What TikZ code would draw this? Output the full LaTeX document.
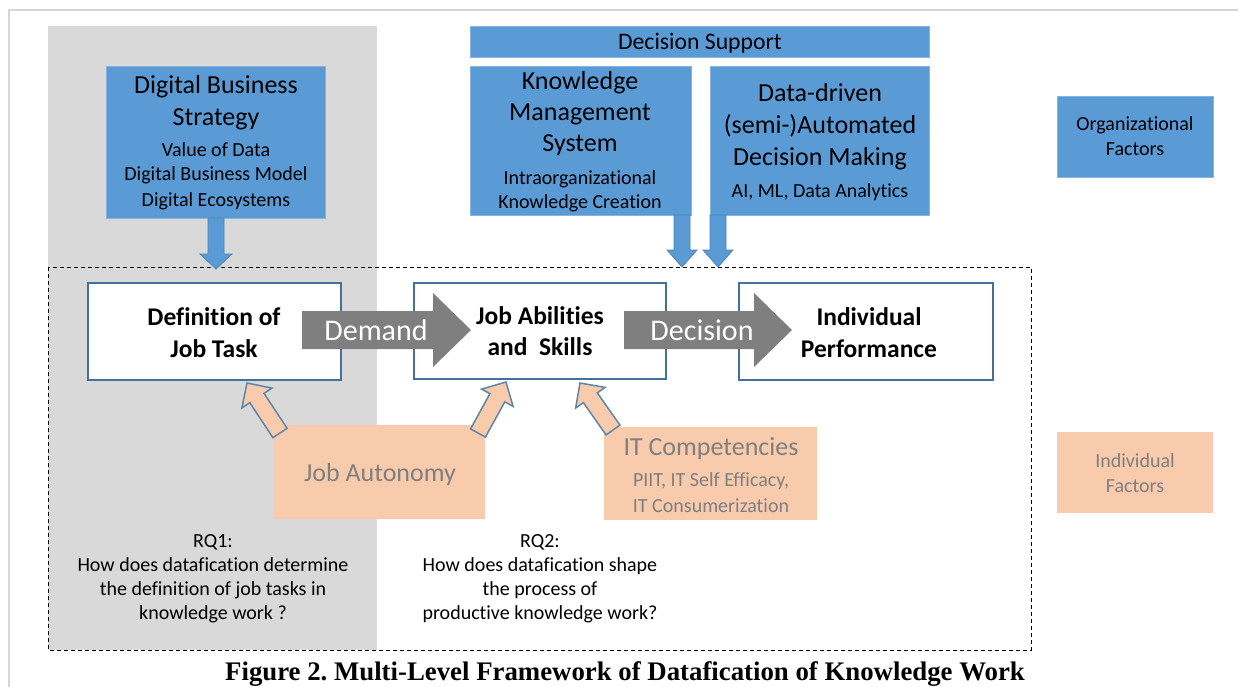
\documentclass[tikz,border=0pt]{standalone}
\usepackage{fontspec}
\setmainfont{Carlito}[Ligatures={NoCommon}]
\newfontfamily\captionfont{Liberation Serif}
\usetikzlibrary{calc,fit}
\frenchspacing

\definecolor{officeblue}{HTML}{5B9BD5}
\definecolor{blueedge}{HTML}{41719C}
\definecolor{peach}{HTML}{F8CBAD}
\definecolor{panelgray}{HTML}{D9D9D9}
\definecolor{arrowgray}{HTML}{7F7F7F}
\definecolor{softtext}{HTML}{7F7F7F}
\definecolor{framegray}{HTML}{D6D6D6}

% block arrow: #1 style, #2 tail, #3 tip, #4 half shaft width, #5 half head width, #6 head length
\newcommand\blockarrow[6]{%
  \coordinate (bahead) at ($(#3)!#6!(#2)$);
  \path[#1] ($(#2)!#4!90:(#3)$) -- ($(bahead)!#4!-90:(#2)$) -- ($(bahead)!#5!-90:(#2)$)
    -- (#3) -- ($(bahead)!#5!90:(#2)$) -- ($(bahead)!#4!90:(#2)$) -- ($(#2)!#4!-90:(#3)$) -- cycle;
}

\begin{document}
\begin{tikzpicture}[x=1pt,y=-1pt,
  txt/.style={anchor=base,inner sep=0pt,outer sep=0pt},
  big/.style={txt,font=\fontsize{26}{31}\selectfont},
  small/.style={txt,font=\fontsize{20}{24}\selectfont},
  boldtxt/.style={txt,font=\bfseries\fontsize{25.5}{30}\selectfont},
  flowtxt/.style={txt,text=white,font=\fontsize{30}{36}\selectfont},
  softbig/.style={big,text=softtext},
  softsmall/.style={small,text=softtext},
  bluebox/.style={fill=officeblue,draw=officeblue!75!white,line width=0.8pt,inner sep=0pt},
  peachbox/.style={fill=peach,inner sep=0pt},
  whitebox/.style={fill=white,draw=blueedge,line width=1.2pt,inner sep=0pt},
  bluearrow/.style={fill=officeblue,draw=blueedge!55!officeblue,line width=0.8pt},
  grayarrow/.style={fill=arrowgray},
  peacharrow/.style={fill=peach,draw=blueedge!85!white,line width=1.5pt,line join=miter},
]
\useasboundingbox (0,0) rectangle (1238,687);

% page frame
\draw[framegray,line width=2pt] (1238,10) -- (9,10) -- (9,687);

% shaded panel behind the first research question
\node[fill=panelgray,inner sep=0pt,fit={(48,26) (377,650)}] (panel) {};

% dashed frame of the individual level
\draw[dashed,dash pattern=on 4pt off 3pt,line width=1pt] (48,267) rectangle (1031,650);

% organizational factors
\node[bluebox,fit={(106,66) (325,218)}] (dbs) {};
\node[bluebox,fit={(470,26) (929,57)}] (ds) {};
\node[bluebox,fit={(470,66) (691,215)}] (kms) {};
\node[bluebox,fit={(710,66) (929,215)}] (ddm) {};
\node[bluebox,fit={(1057,96) (1213,177)}] (orgf) {};

% job level boxes
\node[whitebox,fit={(88,283) (341,380)}] (def) {};
\node[whitebox,fit={(414,283) (666,379)}] (abil) {};
\node[whitebox,fit={(739,283) (993,380)}] (perf) {};

% individual factors
\node[peachbox,fit={(274,425) (485,519)}] (auto) {};
\node[peachbox,fit={(604,427) (817,520)}] (itc) {};
\node[peachbox,fit={(1057,432) (1213,513)}] (indf) {};

% arrow end points
\coordinate (dbs-out) at (216,218);
\coordinate (def-in) at (216,269);
\coordinate (kms-out) at (682,215);
\coordinate (kms-in) at (682,267);
\coordinate (ddm-out) at (718,215);
\coordinate (ddm-in) at (718,267);
\coordinate (dem-s) at (302,330);
\coordinate (dem-e) at (471,330);
\coordinate (dec-s) at (624,330);
\coordinate (dec-e) at (792,330);
\coordinate (auto-a) at (280,433);
\coordinate (def-a) at (247,383);
\coordinate (auto-b) at (478,433);
\coordinate (abil-a) at (506,382);
\coordinate (itc-a) at (613,430);
\coordinate (abil-b) at (580,383);

% arrows
\blockarrow{bluearrow}{dbs-out}{def-in}{8pt}{16pt}{15pt}
\blockarrow{bluearrow}{kms-out}{kms-in}{8pt}{15pt}{17pt}
\blockarrow{bluearrow}{ddm-out}{ddm-in}{8pt}{15pt}{17pt}
\blockarrow{grayarrow}{dem-s}{dem-e}{19pt}{37pt}{38pt}
\blockarrow{grayarrow}{dec-s}{dec-e}{19pt}{37pt}{38pt}
\blockarrow{peacharrow}{auto-a}{def-a}{8.5pt}{18pt}{18pt}
\blockarrow{peacharrow}{auto-b}{abil-a}{8.5pt}{18pt}{18pt}
\blockarrow{peacharrow}{itc-a}{abil-b}{8.5pt}{18pt}{18pt}

% texts: digital business strategy
\node[big] (dbs-1) at (216,94) {Digital Business};
\node[big] (dbs-2) at (216,126) {Strategy};
\node[small] (dbs-3) at (216,157) {Value of Data};
\node[small] (dbs-4) at (216,181) {Digital Business Model};
\node[small] (dbs-5) at (216,206) {Digital Ecosystems};

% decision support
\node[txt,font=\fontsize{23.7}{28}\selectfont] (ds-1) at (700,50) {Decision Support};
\node[big] (kms-1) at (580,90) {Knowledge};
\node[big] (kms-2) at (580,121) {Management};
\node[big] (kms-3) at (580,152) {System};
\node[small] (kms-4) at (580,185) {Intraorganizational};
\node[small] (kms-5) at (580,208) {Knowledge Creation};
\node[big] (ddm-1) at (820,102) {Data-driven};
\node[big] (ddm-2) at (820,134) {(semi-)Automated};
\node[big] (ddm-3) at (820,165) {Decision Making};
\node[small] (ddm-4) at (820,197) {AI, ML, Data Analytics};
\node[small] (orgf-1) at (1135,131) {Organizational};
\node[small] (orgf-2) at (1135,156) {Factors};

% job level
\node[boldtxt] (def-1) at (214,325) {Definition of};
\node[boldtxt] (def-2) at (214,357) {Job Task};
\node[boldtxt] (abil-1) at (540,324) {Job Abilities};
\node[boldtxt] (abil-2) at (540,355) {and\ \ Skills};
\node[boldtxt] (perf-1) at (869,325) {Individual};
\node[boldtxt] (perf-2) at (869,357) {Performance};
\node[flowtxt] (dem-t) at (376,340) {Demand};
\node[flowtxt] (dec-t) at (702,340) {Decision};

% individual factors
\node[softbig] (auto-1) at (380,481) {Job Autonomy};
\node[softbig] (itc-1) at (711,455) {IT Competencies};
\node[softsmall] (itc-2) at (711,486) {PIIT, IT Self Efficacy,};
\node[softsmall] (itc-3) at (711,512) {IT Consumerization};
\node[softsmall] (indf-1) at (1135,467) {Individual};
\node[softsmall] (indf-2) at (1135,492) {Factors};

% research questions
\node[small] (rq1-1) at (213,547) {RQ1:};
\node[small] (rq1-2) at (213,571) {How does datafication determine};
\node[small] (rq1-3) at (213,595) {the definition of job tasks in};
\node[small] (rq1-4) at (213,619) {knowledge work ?};
\node[small] (rq2-1) at (540,547) {RQ2:};
\node[small] (rq2-2) at (540,571) {How does datafication shape};
\node[small] (rq2-3) at (540,595) {the process of};
\node[small] (rq2-4) at (540,619) {productive knowledge work?};

% caption
\node[txt,font=\captionfont\bfseries\fontsize{26.8}{30}\selectfont] (cap) at (625,680)
  {Figure 2. Multi-Level Framework of Datafication of Knowledge Work};
\end{tikzpicture}
\end{document}
